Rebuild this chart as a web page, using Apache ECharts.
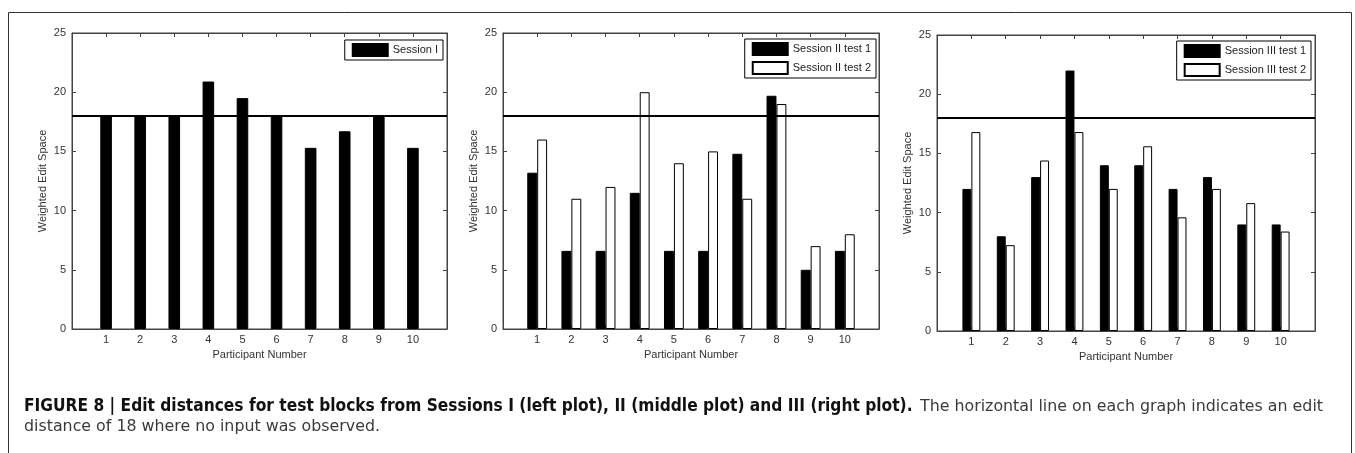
<!DOCTYPE html>
<html><head><meta charset="utf-8">
<script src="https://cdn.jsdelivr.net/npm/echarts@6/dist/echarts.min.js"></script>
<style>html,body{margin:0;padding:0;background:#fff;} #c{width:1355px;height:453px;}</style>
</head><body><div id="c"></div>
<script>
// ---- data ----
const participants = ['1','2','3','4','5','6','7','8','9','10'];
const yTicks = [0, 5, 10, 15, 20, 25];
const threshold = 18;
const session1      = [18, 18, 18, 20.9, 19.5, 18, 15.3, 16.7, 18, 15.3];
const session2test1 = [13.2, 6.6, 6.6, 11.5, 6.6, 6.6, 14.8, 19.7, 5, 6.6];
const session2test2 = [16, 11, 12, 20, 14, 15, 11, 19, 7, 8];
const session3test1 = [12, 8, 13, 22, 14, 14, 12, 13, 9, 9];
const session3test2 = [16.8, 7.25, 14.4, 16.8, 12, 15.6, 9.6, 12, 10.8, 8.4];
const seriesNames = ['Session I', 'Session II test 1', 'Session II test 2', 'Session III test 1', 'Session III test 2'];
const xTitle = 'Participant Number';
const yTitle = 'Weighted Edit Space';
const captionBold = 'FIGURE 8 | Edit distances for test blocks from Sessions I (left plot), II (middle plot) and III (right plot).';
const captionRest = 'The horizontal line on each graph indicates an edit';
const captionLine2 = 'distance of 18 where no input was observed.';

// ---- layout ----
const FONT = 'Liberation Sans, Arial, sans-serif';
const AX = '#444';
const panels = [
  { grid: {left: 72, top: 33, width: 375, height: 296}, barWidth: '34%',
    legend: {right: 912, top: 40},
    series: [{name: seriesNames[0], data: session1, fill: '#000'}] },
  { grid: {left: 503, top: 33, width: 376, height: 296}, barWidth: '29%',
    legend: {right: 479, top: 39},
    series: [{name: seriesNames[1], data: session2test1, fill: '#000'},
             {name: seriesNames[2], data: session2test2, fill: '#fff'}] },
  { grid: {left: 937, top: 35, width: 378, height: 296}, barWidth: '26%',
    legend: {right: 44, top: 41},
    series: [{name: seriesNames[3], data: session3test1, fill: '#000'},
             {name: seriesNames[4], data: session3test2, fill: '#fff'}] }
];
const catData = [''].concat(participants, ['']);
const pad = v => [null].concat(v, [null]);

const grid = [], xAxis = [], yAxis = [], series = [], legend = [];
panels.forEach((p, i) => {
  grid.push(Object.assign({show: true, borderColor: AX, borderWidth: 1, containLabel: false, outerBoundsMode: 'none'}, p.grid));
  ['bottom', 'top'].forEach((pos, k) => {
    xAxis.push({
      type: 'category', gridIndex: i, data: catData, boundaryGap: false, position: pos,
      axisLine: {show: true, onZero: false, lineStyle: {color: AX, width: 1}},
      axisTick: {show: true, inside: true, length: 4, interval: 0, lineStyle: {color: AX}},
      axisLabel: {show: k === 0, interval: 0, margin: 5, color: '#333', fontSize: 11, fontFamily: FONT},
      splitLine: {show: false},
      name: k === 0 ? xTitle : '', nameLocation: 'middle', nameGap: 19,
      nameTextStyle: {color: '#333', fontSize: 11, fontFamily: FONT}
    });
  });
  ['left', 'right'].forEach((pos, k) => {
    yAxis.push({
      type: 'value', gridIndex: i, min: yTicks[0], max: yTicks[yTicks.length - 1], interval: yTicks[1] - yTicks[0], position: pos,
      axisLine: {show: true, onZero: false, lineStyle: {color: AX, width: 1}},
      axisTick: {show: true, inside: true, length: 4, lineStyle: {color: AX}},
      axisLabel: {show: k === 0, margin: 6, color: '#333', fontSize: 11, fontFamily: FONT},
      splitLine: {show: false},
      name: k === 0 ? yTitle : '', nameLocation: 'middle', nameGap: 24,
      nameTextStyle: {color: '#333', fontSize: 11, fontFamily: FONT}
    });
  });
  p.series.forEach((s, j) => {
    const ser = {
      type: 'bar', name: s.name, xAxisIndex: 2 * i, yAxisIndex: 2 * i,
      data: pad(s.data), barWidth: p.barWidth, barGap: '0%',
      itemStyle: {color: s.fill, borderColor: '#000', borderWidth: 1},
      emphasis: {disabled: true}, animation: false
    };
    if (j === 0) {
      ser.markLine = {silent: true, symbol: ['none', 'none'], label: {show: false}, animation: false,
        lineStyle: {color: '#000', width: 2, type: 'solid'}, data: [{yAxis: threshold}]};
    }
    series.push(ser);
  });
  legend.push(Object.assign({
    orient: 'vertical', itemWidth: 35, itemHeight: 12, itemGap: 5, icon: 'rect',
    padding: [3, 5, 3, 7], borderColor: '#000', borderWidth: 1, backgroundColor: '#fff',
    selectedMode: false, data: p.series.map(s => s.name),
    textStyle: {fontSize: 11, color: '#222', fontFamily: FONT, lineHeight: 12}
  }, p.legend));
});

// ---- caption: sized so each phrase fills the span it has in the figure ----
const ctx = document.createElement('canvas').getContext('2d');
const BOLDF = '"DejaVu Sans Condensed", "DejaVu Sans", sans-serif';
const NORMF = '"DejaVu Sans", sans-serif';
function fitSize(text, weight, family, target) {
  ctx.font = weight + ' 100px ' + family;
  return 100 * target / ctx.measureText(text).width;
}
const capX0 = 24, capBoldEnd = 913, capX1 = 1323, capY1 = 407, capY2 = 427;
const boldSize = fitSize(captionBold, 'bold', BOLDF, capBoldEnd - capX0);
const normSize = fitSize(captionRest, 'normal', NORMF, capX1 - capBoldEnd - 7);
const graphic = [
  {type: 'rect', shape: {x: 8.5, y: 12.5, width: 1343, height: 470}, style: {fill: 'none', stroke: '#333', lineWidth: 1}, silent: true},
  {type: 'text', x: capX0, y: capY1, silent: true,
    style: {text: captionBold, font: 'bold ' + boldSize.toFixed(2) + 'px ' + BOLDF, fill: '#111', textVerticalAlign: 'middle', verticalAlign: 'middle'}},
  {type: 'text', x: capX1, y: capY1, silent: true,
    style: {text: captionRest, font: normSize.toFixed(2) + 'px ' + NORMF, fill: '#3a3a3a', textAlign: 'right', align: 'right', textVerticalAlign: 'middle', verticalAlign: 'middle'}},
  {type: 'text', x: capX0, y: capY2, silent: true,
    style: {text: captionLine2, font: normSize.toFixed(2) + 'px ' + NORMF, fill: '#3a3a3a', textVerticalAlign: 'middle', verticalAlign: 'middle'}}
];

const chart = echarts.init(document.getElementById('c'), null, {renderer: 'canvas'});
chart.setOption({animation: false, backgroundColor: '#fff', grid, xAxis, yAxis, series, legend, graphic});
</script></body></html>
